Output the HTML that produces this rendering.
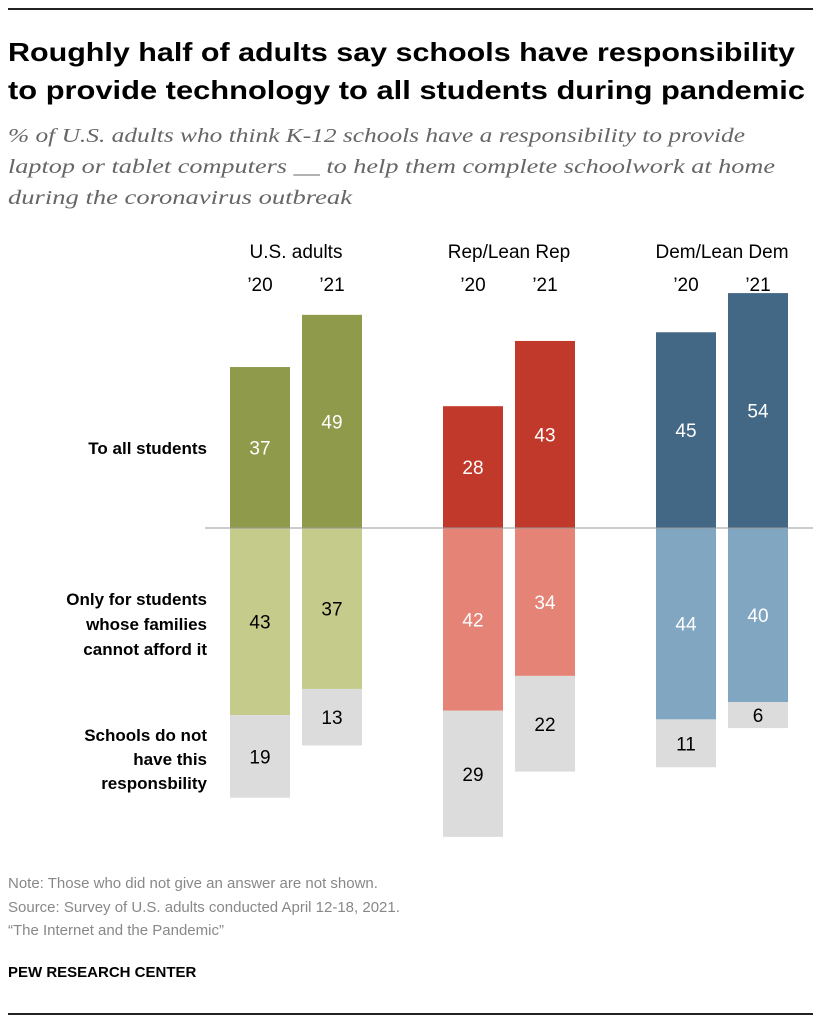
<!DOCTYPE html>
<html><head><meta charset="utf-8"><style>body{margin:0;background:#fff}svg{display:block}</style></head><body>
<svg id="c" width="821" height="1024" viewBox="0 0 821 1024" xmlns="http://www.w3.org/2000/svg" font-family="Liberation Sans, sans-serif">
<rect x="8" y="8" width="805" height="2" fill="#222"/>
<text x="8" y="61" font-size="26" font-weight="bold" textLength="787" lengthAdjust="spacingAndGlyphs">Roughly half of adults say schools have responsibility</text>
<text x="8" y="99" font-size="26" font-weight="bold" textLength="797" lengthAdjust="spacingAndGlyphs">to provide technology to all students during pandemic</text>
<g font-family="Liberation Serif, serif" font-style="italic" font-size="20" fill="#666">
<text x="8" y="142" textLength="737" lengthAdjust="spacingAndGlyphs">% of U.S. adults who think K-12 schools have a responsibility to provide</text>
<text x="8" y="173" textLength="767" lengthAdjust="spacingAndGlyphs">laptop or tablet computers __ to help them complete schoolwork at home</text>
<text x="8" y="204" textLength="344" lengthAdjust="spacingAndGlyphs">during the coronavirus outbreak</text>
</g>
<g id="bars"></g>
<line x1="205" y1="528" x2="813" y2="528" stroke="#999" stroke-width="1"/>
<g font-size="17" font-weight="bold" text-anchor="end">
<text x="207" y="454">To all students</text>
<text x="207" y="605">Only for students</text>
<text x="207" y="630">whose families</text>
<text x="207" y="655">cannot afford it</text>
<text x="207" y="741">Schools do not</text>
<text x="207" y="765">have this</text>
<text x="207" y="789">responsbility</text>
</g>
<g font-size="15" fill="#888">
<text x="8" y="888">Note: Those who did not give an answer are not shown.</text>
<text x="8" y="912">Source: Survey of U.S. adults conducted April 12-18, 2021.</text>
<text x="8" y="935">“The Internet and the Pandemic”</text>
</g>
<text x="8" y="977" font-size="15" font-weight="bold">PEW RESEARCH CENTER</text>
<rect x="8" y="1013" width="805" height="2" fill="#222"/>
</svg>
<script>
const groups = ["U.S. adults","Rep/Lean Rep","Dem/Lean Dem"];
const years = ["’20","’21"];
const allStudents = [[37,49],[28,43],[45,54]];
const onlyNeedy = [[43,37],[42,34],[44,40]];
const noResp = [[19,13],[29,22],[11,6]];
const dark = ["#8f9a4b","#c0392b","#436886"];
const light = ["#c5cb8b","#e58376","#80a6c2"];
const gray = "#dcdcdc";
const base = 528, k = 4.35, bw = 60;
const gx = [230,443,656], gap = 72;
const y = v => v * k;
const NS = "http://www.w3.org/2000/svg";
const g = document.getElementById("bars");
function el(t, a){const e=document.createElementNS(NS,t);for(const p in a)e.setAttribute(p,a[p]);g.appendChild(e);return e;}
function lbl(x,yy,s,fill,size){const t=el("text",{x:x,y:yy,"text-anchor":"middle","font-size":size||19,fill:fill});t.textContent=s;return t;}
groups.forEach((name,i)=>{
  const h=lbl(gx[i]+bw/2+gap/2, 258, name, "#000", 19);
  
  
  years.forEach((yr,j)=>{
    const x=gx[i]+j*gap, cx=x+bw/2;
    const yl=lbl(cx, 291, yr, "#000", 19);
    
    
    const a=allStudents[i][j], b=onlyNeedy[i][j], c=noResp[i][j];
    const r1=el("rect",{x:x,y:base-y(a),width:bw,height:y(a),fill:dark[i]});
    
    
    const t1=lbl(cx, base-y(a)/2+7, a, "#fff");
    
    
    const r2=el("rect",{x:x,y:base,width:bw,height:y(b),fill:light[i]});
    
    
    const t2=lbl(cx, base+y(b)/2+7, b, i==0?"#000":"#fff");
    
    
    const r3=el("rect",{x:x,y:base+y(b),width:bw,height:y(c),fill:gray});
    
    
    const t3=lbl(cx, base+y(b)+y(c)/2+7, c, "#000");
    
    
  });
});
</script>
</body></html>
